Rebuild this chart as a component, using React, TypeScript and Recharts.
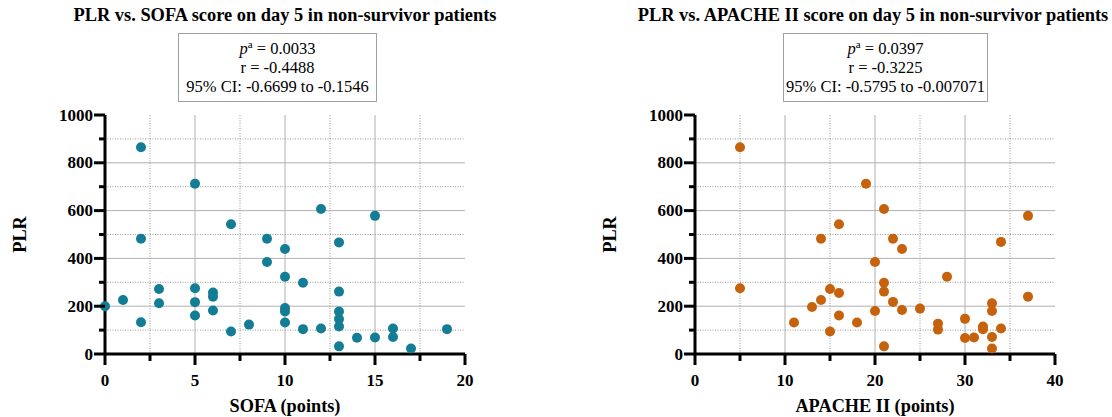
import React from 'react';
import { ScatterChart, Scatter, XAxis, YAxis, ReferenceLine } from 'recharts';

// SOFA score vs PLR (day 5, non-survivors)
const sofaScore = [0, 1, 2, 2, 2, 3, 3, 5, 5, 5, 5, 6, 6, 6, 7, 7, 8, 9, 9, 10, 10, 10, 10, 10, 11, 11, 12, 12, 13, 13, 13, 13, 13, 13, 14, 15, 15, 16, 16, 17, 19];
const sofaPlr = [200, 226, 865, 482, 133, 272, 212, 712, 275, 217, 161, 257, 240, 182, 543, 94, 123, 482, 385, 439, 323, 192, 178, 132, 298, 104, 607, 107, 467, 261, 178, 146, 115, 32, 68, 578, 69, 107, 71, 23, 104];

// APACHE II score vs PLR
const apacheScore = [5, 5, 11, 13, 14, 14, 15, 15, 16, 16, 16, 18, 19, 20, 20, 21, 21, 21, 21, 22, 22, 23, 23, 25, 27, 27, 28, 30, 30, 31, 32, 32, 33, 33, 33, 33, 34, 34, 37, 37];
const apachePlr = [865, 275, 132, 197, 482, 226, 272, 94, 543, 255, 161, 132, 712, 385, 180, 607, 298, 261, 32, 482, 218, 439, 184, 190, 127, 102, 323, 147, 67, 69, 115, 104, 212, 180, 71, 23, 469, 107, 578, 240];

const plrTicks = [0, 100, 200, 300, 400, 500, 600, 700, 800, 900, 1000];
const plrMajorGrid = [200, 400, 600, 800];
const plrMinorGrid = [100, 300, 500, 700, 900];

const sofaTicks = [0, 2.5, 5, 7.5, 10, 12.5, 15, 17.5, 20];
const sofaMajorGrid = [5, 10, 15];
const sofaMinorGrid = [2.5, 7.5, 12.5, 17.5];

const apacheTicks = [0, 5, 10, 15, 20, 25, 30, 35, 40];
const apacheMajorGrid = [10, 20, 30];
const apacheMinorGrid = [5, 15, 25, 35];

const serif = '"Liberation Serif", "Times New Roman", serif';
const boldText = { fontFamily: serif, fontWeight: 700, fontSize: 17, fill: '#000' };
const labelText = { ...boldText, fontSize: 18.3 };

const zip = (xs: number[], ys: number[]) => xs.map((x, i) => ({ x, y: ys[i] }));

interface PanelProps {
  left: number;
  yAxisWidth: number;
  rightMargin: number;
  title: string;
  titleCenter: number;
  box: { left: number; width: number; lines: [string, string, string] };
  xLabel: string;
  xTicks: number[];
  xMax: number;
  labelEvery: number;
  majorX: number[];
  minorX: number[];
  data: { x: number; y: number }[];
  color: string;
}

function Panel(p: PanelProps) {
  const YTick = (props: any) => {
    const { x, y, payload } = props;
    const major = payload.value % 200 === 0;
    const len = major ? 11 : 6;
    return (
      <g>
        <line x1={x - len} x2={x} y1={y} y2={y} stroke="#000" strokeWidth={3} />
        {major && (
          <text x={x - 12} y={y} textAnchor="end" dominantBaseline="central" fontFamily={serif} style={boldText}>
            {payload.value}
          </text>
        )}
      </g>
    );
  };
  const XTick = (props: any) => {
    const { x, y, payload } = props;
    const major = payload.value % p.labelEvery === 0;
    const len = major ? 11 : 7;
    return (
      <g>
        <line x1={x} x2={x} y1={y} y2={y + len} stroke="#000" strokeWidth={3} />
        {major && (
          <text x={x} y={y + 26} textAnchor="middle" dominantBaseline="central" fontFamily={serif} style={boldText}>
            {payload.value}
          </text>
        )}
      </g>
    );
  };

  return (
    <div style={{ position: 'absolute', left: p.left, top: 0, width: 556, height: 417, fontFamily: serif }}>
      <div
        style={{
          position: 'absolute',
          left: p.titleCenter - 300,
          width: 600,
          top: 5,
          textAlign: 'center',
          fontWeight: 700,
          fontSize: 18.4,
          lineHeight: '21px',
          whiteSpace: 'nowrap',
        }}
      >
        {p.title}
      </div>
      <div
        style={{
          position: 'absolute',
          left: p.box.left,
          top: 33,
          width: p.box.width,
          height: 69,
          border: '1.5px solid #a0a0a0',
          boxSizing: 'border-box',
          textAlign: 'center',
          fontSize: 16.5,
          lineHeight: '19px',
          paddingTop: 5,
          whiteSpace: 'nowrap',
        }}
      >
        <div>
          <i>p</i>
          <sup style={{ fontSize: 11, lineHeight: 0 }}>a</sup> {p.box.lines[0]}
        </div>
        <div>{p.box.lines[1]}</div>
        <div>{p.box.lines[2]}</div>
      </div>
      <ScatterChart
        width={556}
        height={417}
        margin={{ top: 115, right: p.rightMargin, left: 0, bottom: 0 }}
        style={{ position: 'absolute', left: 0, top: 0 }}
      >
        {plrMinorGrid.map((v) => (
          <ReferenceLine key={'hm' + v} y={v} stroke="#9a9a9a" strokeDasharray="1 1.5" />
        ))}
        {plrMajorGrid.map((v) => (
          <ReferenceLine key={'hM' + v} y={v} stroke="#b0b0b0" />
        ))}
        {p.minorX.map((v) => (
          <ReferenceLine key={'vm' + v} x={v} stroke="#9a9a9a" strokeDasharray="1 1.5" />
        ))}
        {p.majorX.map((v) => (
          <ReferenceLine key={'vM' + v} x={v} stroke="#b0b0b0" />
        ))}
        <XAxis
          type="number"
          dataKey="x"
          domain={[0, p.xMax]}
          ticks={p.xTicks}
          interval={0}
          height={63}
          tick={XTick}
          tickSize={0}
          tickMargin={0}
          tickLine={false}
          axisLine={{ stroke: '#000', strokeWidth: 3 }}
          label={{ value: p.xLabel, position: 'insideBottom', offset: 5, style: labelText, fontFamily: serif }}
        />
        <YAxis
          type="number"
          dataKey="y"
          domain={[0, 1000]}
          ticks={plrTicks}
          interval={0}
          width={p.yAxisWidth}
          tick={YTick}
          tickSize={0}
          tickMargin={0}
          tickLine={false}
          axisLine={{ stroke: '#000', strokeWidth: 3 }}
          label={{
            value: 'PLR',
            angle: -90,
            position: 'insideLeft',
            offset: p.yAxisWidth - 85,
            fontFamily: serif,
            style: { ...labelText, textAnchor: 'middle' },
          }}
        />
        <Scatter
          data={p.data}
          isAnimationActive={false}
          shape={(s: any) => <circle cx={s.cx} cy={s.cy} r={5} fill={p.color} />}
        />
      </ScatterChart>
    </div>
  );
}

export default function App() {
  return (
    <div style={{ position: 'absolute', left: 0, top: 0, width: 1112, height: 417, background: '#fff' }}>
      <Panel
        left={0}
        yAxisWidth={105}
        rightMargin={91}
        title="PLR vs. SOFA score on day 5 in non-survivor patients"
        titleCenter={285}
        box={{ left: 178, width: 199, lines: ['= 0.0033', 'r = -0.4488', '95% CI: -0.6699 to -0.1546'] }}
        xLabel="SOFA (points)"
        xTicks={sofaTicks}
        xMax={20}
        labelEvery={5}
        majorX={sofaMajorGrid}
        minorX={sofaMinorGrid}
        data={zip(sofaScore, sofaPlr)}
        color="#137d96"
      />
      <Panel
        left={556}
        yAxisWidth={139}
        rightMargin={57}
        title="PLR vs. APACHE II score on day 5 in non-survivor patients"
        titleCenter={317}
        box={{ left: 227, width: 205, lines: ['= 0.0397', 'r = -0.3225', '95% CI: -0.5795 to -0.007071'] }}
        xLabel="APACHE II (points)"
        xTicks={apacheTicks}
        xMax={40}
        labelEvery={10}
        majorX={apacheMajorGrid}
        minorX={apacheMinorGrid}
        data={zip(apacheScore, apachePlr)}
        color="#c6620b"
      />
    </div>
  );
}
